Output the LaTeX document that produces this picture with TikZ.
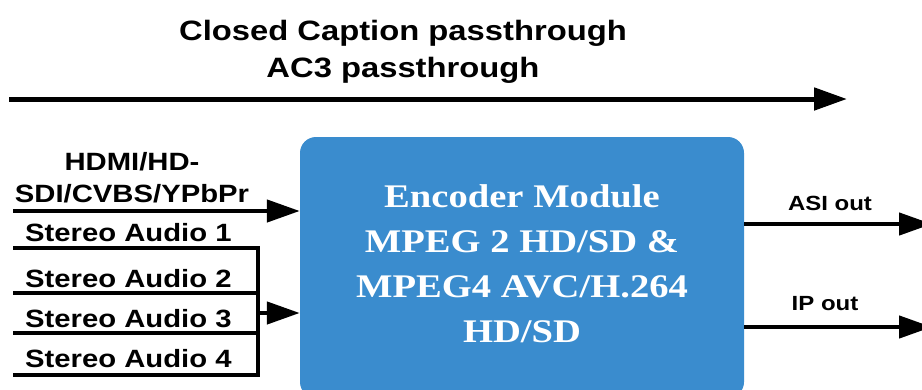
\documentclass[tikz,border=0pt]{standalone}
\usepackage{fontspec}
\setmainfont{Liberation Serif}
\setsansfont{Liberation Sans}
\usetikzlibrary{arrows.meta}
\definecolor{encblue}{RGB}{58,140,206}
\newcommand{\wide}[1]{\scalebox{1.17}[1]{#1}}
\tikzset{
  conn/.style={line width=4.5pt, black},
  arr/.style={conn, -{Triangle[length=33pt,width=22pt]}},
  encbox/.style={fill=encblue, draw=none, rounded corners=16pt, minimum width=444pt, minimum height=261pt, inner sep=0pt},
  toptext/.style={font=\sffamily\bfseries\fontsize{28}{28}\selectfont, anchor=base, inner sep=0pt},
  intext/.style={font=\sffamily\bfseries\fontsize{25}{25}\selectfont, anchor=base, inner sep=0pt},
  audtext/.style={font=\sffamily\bfseries\fontsize{25}{25}\selectfont, anchor=base west, inner sep=0pt},
  outtext/.style={font=\sffamily\bfseries\fontsize{20.5}{20.5}\selectfont, anchor=base, inner sep=0pt},
  boxtext/.style={font=\rmfamily\bfseries\fontsize{33}{33}\selectfont, text=white, anchor=base, inner sep=0pt}
}
\begin{document}
\begin{tikzpicture}[x=1pt,y=-1pt]
\clip (0,0) rectangle (922,389);
\fill[white] (0,0) rectangle (922,389);
% top
\node[toptext] (cc) at (403,40) {\wide{Closed Caption passthrough}};
\node[toptext] (ac3) at (403,77) {\wide{AC3 passthrough}};
\coordinate (topL) at (9,99);
\coordinate (topR) at (847,99);
\draw[arr, line width=5pt] (topL) -- (topR);
% box
\node[encbox] (enc) at (522,267.5) {};
\node[boxtext] (e1) at (522,207) {\wide{Encoder Module}};
\node[boxtext] (e2) at (522,252) {\wide{MPEG 2 HD/SD \&}};
\node[boxtext] (e3) at (522,297) {\wide{MPEG4 AVC/H.264}};
\node[boxtext] (e4) at (522,342) {\wide{HD/SD}};
% video input
\node[intext] (hd1) at (132,170) {\wide{HDMI/HD-}};
\node[intext] (hd2) at (132,202) {\wide{SDI/CVBS/YPbPr}};
\coordinate (hdL) at (13,211);
\draw[arr] (hdL) -- (enc.west |- hdL);
% audio inputs
\node[audtext] (a1) at (25,241) {\wide{Stereo Audio 1}};
\node[audtext] (a2) at (25,287) {\wide{Stereo Audio 2}};
\node[audtext] (a3) at (25,327) {\wide{Stereo Audio 3}};
\node[audtext] (a4) at (25,367) {\wide{Stereo Audio 4}};
\coordinate (a1L) at (13,248);
\coordinate (a2L) at (13,293);
\coordinate (a3L) at (13,333);
\coordinate (a4L) at (13,375);
\coordinate (bus1) at (258,248);
\coordinate (bus4) at (258,375);
\coordinate (busM) at (258,313);
\draw[conn] (a1L) -- (bus1);
\draw[conn] (a2L) -- (bus1 |- a2L);
\draw[conn] (a3L) -- (bus1 |- a3L);
\draw[conn] (a4L) -- (bus4);
\draw[conn, line cap=rect] (bus1) -- (bus4);
\draw[arr] (busM) -- (enc.west |- busM);
% outputs
\node[outtext] (asi) at (830,210) {\wide{ASI out}};
\node[outtext] (ip) at (825,310) {\wide{IP out}};
\coordinate (asiR) at (932,224);
\coordinate (ipR) at (932,327);
\draw[arr] (enc.east |- asiR) -- (asiR);
\draw[arr] (enc.east |- ipR) -- (ipR);
\end{tikzpicture}
\end{document}
